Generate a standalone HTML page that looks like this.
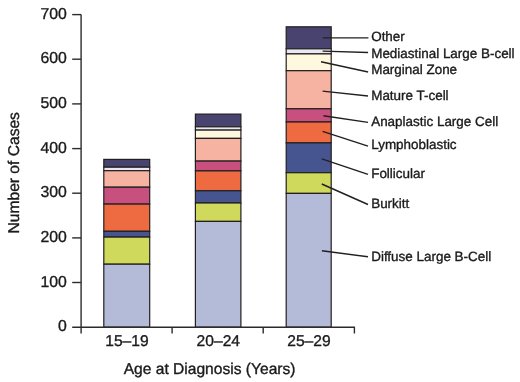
<!DOCTYPE html><html><head><meta charset="utf-8"><title>Chart</title><style>html,body{margin:0;padding:0;background:#fff}svg{display:block}text{text-rendering:geometricPrecision;font-family:"Liberation Sans",Arial,sans-serif;fill:#1a1a1a;stroke:#1a1a1a;stroke-width:0.35px}</style></head><body>
<svg width="520" height="382" viewBox="0 0 520 382">
<rect width="520" height="382" fill="#fff"/>
<rect x="103.8" y="159.4" width="45.9" height="7.8" fill="#49446f" stroke="#231f20" stroke-width="1.2"/>
<rect x="103.8" y="167.2" width="45.9" height="3.5" fill="#e8e8f4" stroke="#231f20" stroke-width="1.2"/>
<rect x="103.8" y="170.7" width="45.9" height="16.5" fill="#f6b3a2" stroke="#231f20" stroke-width="1.2"/>
<rect x="103.8" y="187.2" width="45.9" height="16.9" fill="#c8507f" stroke="#231f20" stroke-width="1.2"/>
<rect x="103.8" y="204.1" width="45.9" height="27.2" fill="#ee6a40" stroke="#231f20" stroke-width="1.2"/>
<rect x="103.8" y="231.3" width="45.9" height="5.8" fill="#46548f" stroke="#231f20" stroke-width="1.2"/>
<rect x="103.8" y="237.1" width="45.9" height="27.1" fill="#cfd95b" stroke="#231f20" stroke-width="1.2"/>
<rect x="103.8" y="264.2" width="45.9" height="63.0" fill="#b3bbd9" stroke="#231f20" stroke-width="1.2"/>
<rect x="195.4" y="114.1" width="45.5" height="12.7" fill="#49446f" stroke="#231f20" stroke-width="1.2"/>
<rect x="195.4" y="126.8" width="45.5" height="3.3" fill="#e8e8f4" stroke="#231f20" stroke-width="1.2"/>
<rect x="195.4" y="130.1" width="45.5" height="8.3" fill="#fef9de" stroke="#231f20" stroke-width="1.2"/>
<rect x="195.4" y="138.4" width="45.5" height="22.7" fill="#f6b3a2" stroke="#231f20" stroke-width="1.2"/>
<rect x="195.4" y="161.1" width="45.5" height="9.8" fill="#c8507f" stroke="#231f20" stroke-width="1.2"/>
<rect x="195.4" y="170.9" width="45.5" height="19.9" fill="#ee6a40" stroke="#231f20" stroke-width="1.2"/>
<rect x="195.4" y="190.8" width="45.5" height="12.2" fill="#46548f" stroke="#231f20" stroke-width="1.2"/>
<rect x="195.4" y="203.0" width="45.5" height="18.4" fill="#cfd95b" stroke="#231f20" stroke-width="1.2"/>
<rect x="195.4" y="221.4" width="45.5" height="105.8" fill="#b3bbd9" stroke="#231f20" stroke-width="1.2"/>
<rect x="286.2" y="26.8" width="45.0" height="22.0" fill="#49446f" stroke="#231f20" stroke-width="1.2"/>
<rect x="286.2" y="48.8" width="45.0" height="5.1" fill="#e8e8f4" stroke="#231f20" stroke-width="1.2"/>
<rect x="286.2" y="53.9" width="45.0" height="16.8" fill="#fef9de" stroke="#231f20" stroke-width="1.2"/>
<rect x="286.2" y="70.7" width="45.0" height="38.1" fill="#f6b3a2" stroke="#231f20" stroke-width="1.2"/>
<rect x="286.2" y="108.8" width="45.0" height="13.2" fill="#c8507f" stroke="#231f20" stroke-width="1.2"/>
<rect x="286.2" y="122.0" width="45.0" height="20.9" fill="#ee6a40" stroke="#231f20" stroke-width="1.2"/>
<rect x="286.2" y="142.9" width="45.0" height="29.8" fill="#46548f" stroke="#231f20" stroke-width="1.2"/>
<rect x="286.2" y="172.7" width="45.0" height="20.7" fill="#cfd95b" stroke="#231f20" stroke-width="1.2"/>
<rect x="286.2" y="193.4" width="45.0" height="133.8" fill="#b3bbd9" stroke="#231f20" stroke-width="1.2"/>
<g stroke="#2b2b2b" stroke-width="1.4" fill="none">
<path d="M81.1 14.6V333.6"/>
<path d="M72.2 327.2H354.4V333.6"/>
<path d="M72.2 282.5H81.1"/>
<path d="M72.2 237.9H81.1"/>
<path d="M72.2 193.2H81.1"/>
<path d="M72.2 148.6H81.1"/>
<path d="M72.2 103.9H81.1"/>
<path d="M72.2 59.2H81.1"/>
<path d="M72.2 14.6H81.1"/>
<path d="M172.1 327.2V333.6"/>
<path d="M263.2 327.2V333.6"/>
</g>
<text x="66.8" y="331.4" font-size="15.8" text-anchor="end">0</text>
<text x="66.8" y="286.7" font-size="15.8" text-anchor="end">100</text>
<text x="66.8" y="242.1" font-size="15.8" text-anchor="end">200</text>
<text x="66.8" y="197.4" font-size="15.8" text-anchor="end">300</text>
<text x="66.8" y="152.8" font-size="15.8" text-anchor="end">400</text>
<text x="66.8" y="108.1" font-size="15.8" text-anchor="end">500</text>
<text x="66.8" y="63.4" font-size="15.8" text-anchor="end">600</text>
<text x="66.8" y="18.8" font-size="15.8" text-anchor="end">700</text>
<text x="126.9" y="346.4" font-size="15.6" text-anchor="middle">15–19</text>
<text x="218.3" y="346.4" font-size="15.6" text-anchor="middle">20–24</text>
<text x="308.9" y="346.4" font-size="15.6" text-anchor="middle">25–29</text>
<text x="209.6" y="374.2" font-size="15.6" text-anchor="middle">Age at Diagnosis (Years)</text>
<text transform="translate(18.7 172.75) rotate(-90)" font-size="15.6" text-anchor="middle">Number of Cases</text>
<g stroke="#231f20" stroke-width="1.4" fill="none">
<path d="M322.6 37.9L368.4 37.9"/>
<path d="M322.6 51.1L368.1 52.5"/>
<path d="M321 61.8L368.1 72.0"/>
<path d="M322.6 91.1L368.0 96.0"/>
<path d="M323.4 115.7L368.0 122.4"/>
<path d="M322.6 131.4L368.0 146.2"/>
<path d="M321.8 158.8L368.0 174.4"/>
<path d="M321.8 184L368.0 204.5"/>
<path d="M321.9 250.8L368.0 256.8"/>
</g>
<text x="371.2" y="40.5" font-size="13.45">Other</text>
<text x="371.2" y="57.6" font-size="13.45">Mediastinal Large B-cell</text>
<text x="371.2" y="74.3" font-size="13.45">Marginal Zone</text>
<text x="371.2" y="99.6" font-size="13.45">Mature T-cell</text>
<text x="371.2" y="125.6" font-size="13.45">Anaplastic Large Cell</text>
<text x="371.2" y="148.7" font-size="13.45">Lymphoblastic</text>
<text x="371.2" y="177.7" font-size="13.45">Follicular</text>
<text x="371.2" y="208.3" font-size="13.45">Burkitt</text>
<text x="371.2" y="260.9" font-size="13.45">Diffuse Large B-Cell</text>
</svg></body></html>
